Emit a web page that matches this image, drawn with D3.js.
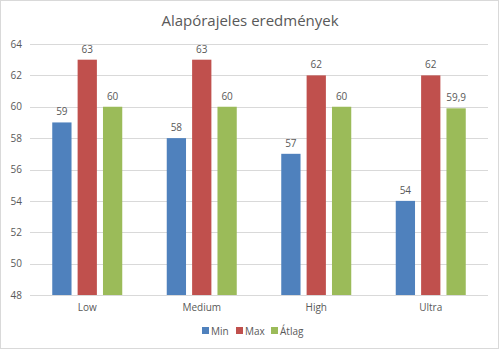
<!DOCTYPE html>
<html><head><meta charset="utf-8">
<script src="https://cdn.jsdelivr.net/npm/d3@7/dist/d3.min.js"></script>
<style>body{margin:0;background:#fff}text{font-family:"Open Sans",sans-serif;fill:#595959}</style>
</head><body><svg id="c" width="500" height="350"></svg>
<script>
const categories = ["Low","Medium","High","Ultra"];
const seriesNames = ["Min","Max","Átlag"];
const minVals = [59,58,57,54];
const maxVals = [63,63,62,62];
const avgVals = [60,60,60,59.9];
const yTicks = [48,50,52,54,56,58,60,62,64];
const colors = ["#4F81BD","#C0504D","#9BBB59"];
const series = [minVals,maxVals,avgVals];
const fmt = v => String(v).replace(".", ",");

const svg = d3.select("#c");
svg.append("rect").attr("x",0.5).attr("y",0.5).attr("width",498).attr("height",348)
  .attr("fill","#fff").attr("stroke","#d9d9d9");
svg.append("text").attr("x",250).attr("y",26).attr("text-anchor","middle")
  .attr("font-size",15).text("Alapórajeles eredmények");

const y = d3.scaleLinear().domain([48,64]).range([295,44]);
const x0 = d3.scaleBand().domain(categories).range([30,488]);
const x1 = d3.scaleBand().domain(seriesNames).range([22.25,92.25]).paddingInner(0.24);

const g = svg.append("g");
g.selectAll("line.grid").data(yTicks).join("line")
  .attr("x1",30).attr("x2",488).attr("y1",d=>Math.round(y(d))+0.5).attr("y2",d=>Math.round(y(d))+0.5)
  .attr("stroke","#d9d9d9");
const yAxis = d3.axisLeft(y).tickValues(yTicks).tickSize(0).tickPadding(8);
const ya = svg.append("g").attr("transform","translate(30,0)").call(yAxis);
ya.select(".domain").remove();
ya.selectAll("text").attr("font-size",10).attr("fill","#595959").style("font-family","Open Sans");

const xAxis = d3.axisBottom(x0).tickSize(0).tickPadding(9);
const xa = svg.append("g").attr("transform","translate(0,295)").call(xAxis);
xa.select(".domain").remove();
xa.selectAll("text").attr("font-size",10).attr("fill","#595959").style("font-family","Open Sans");

series.forEach((vals,si)=>{
  const sg = svg.append("g");
  sg.selectAll("rect").data(vals).join("rect")
    .attr("x",(d,i)=>x0(categories[i])+x1(seriesNames[si]))
    .attr("width",x1.bandwidth())
    .attr("y",d=>y(d)).attr("height",d=>y(48)-y(d))
    .attr("fill",colors[si]);
  sg.selectAll("text").data(vals).join("text")
    .attr("x",(d,i)=>x0(categories[i])+x1(seriesNames[si])+x1.bandwidth()/2)
    .attr("y",d=>y(d)-7).attr("text-anchor","middle").attr("font-size",10)
    .text(d=>fmt(d));
});

const legX = [202,236,271];
const lg = svg.append("g");
seriesNames.forEach((n,i)=>{
  lg.append("rect").attr("x",legX[i]).attr("y",327).attr("width",7).attr("height",7).attr("fill",colors[i]);
  lg.append("text").attr("x",legX[i]+9).attr("y",334.5).attr("font-size",10).text(n);
});
</script></body></html>
